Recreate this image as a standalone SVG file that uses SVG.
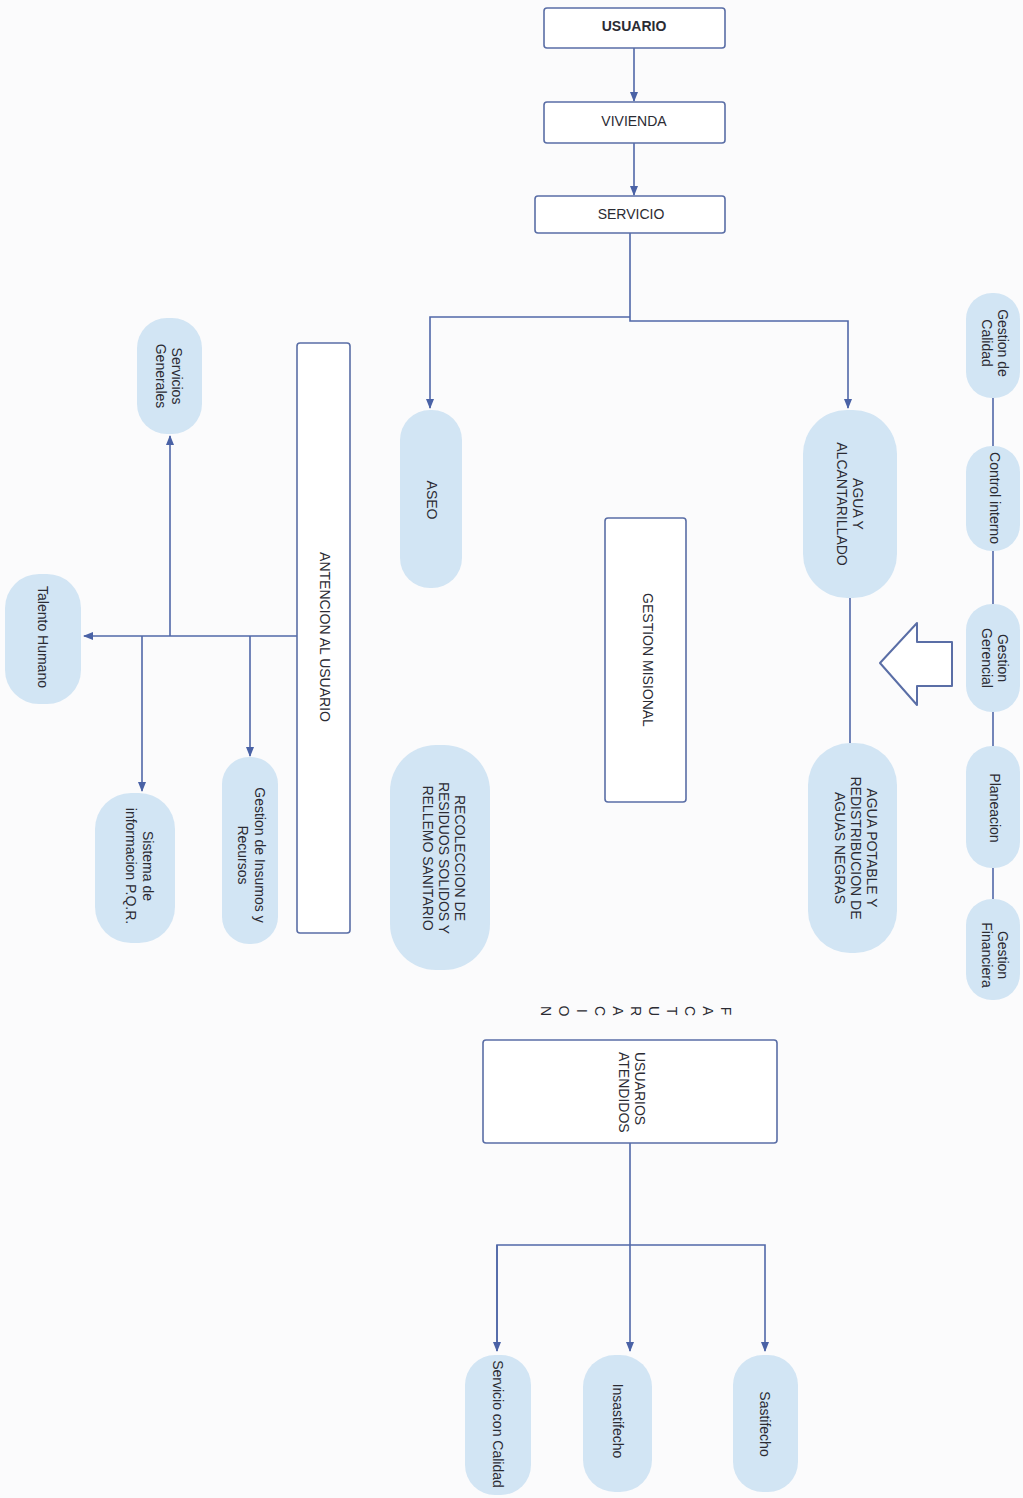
<svg xmlns="http://www.w3.org/2000/svg" width="1023" height="1498" viewBox="0 0 1023 1498">
<style>
.box{fill:#ffffff;stroke:#5a6ea6;stroke-width:1.6}
.pill{fill:#d2e5f4;stroke:none}
.t{font-family:"Liberation Sans",Arial,sans-serif;font-size:14px;fill:#2b2b33;text-anchor:middle}
.b{font-weight:bold}
.c{fill:none;stroke:#5168a8;stroke-width:1.6}
</style>
<defs>
<marker id="ah" markerUnits="userSpaceOnUse" markerWidth="10" markerHeight="10" viewBox="0 0 10 10" refX="9" refY="5" orient="auto">
<path d="M0,1 L10,5 L0,9 Z" fill="#4a62a6"/>
</marker>
</defs>
<rect width="1023" height="1498" fill="#fbfbfc"/>

<g id="connectors">
<path class="c" d="M634,48 V101" marker-end="url(#ah)"/>
<path class="c" d="M634,143 V195" marker-end="url(#ah)"/>
<path class="c" d="M630,233 V321 H848 V408" marker-end="url(#ah)"/>
<path class="c" d="M630,317 H430 V408" marker-end="url(#ah)"/>
<path class="c" d="M850,598 V743"/>
<path class="c" d="M993,396 V447"/>
<path class="c" d="M993,550 V604"/>
<path class="c" d="M993,711 V746"/>
<path class="c" d="M993,867 V899"/>
<path class="c" d="M297,636 H84" marker-end="url(#ah)"/>
<path class="c" d="M170,636 V436" marker-end="url(#ah)"/>
<path class="c" d="M250,636 V756" marker-end="url(#ah)"/>
<path class="c" d="M142,636 V791" marker-end="url(#ah)"/>
<path class="c" d="M630,1143 V1351" marker-end="url(#ah)"/>
<path class="c" d="M497,1351 V1245 H765 V1351" marker-end="url(#ah)"/>
<path class="c" d="M497,1245 V1351" marker-end="url(#ah)"/>
</g>

<g id="big-arrow">
<polygon points="880,663 917,623 917,642 952,642 952,686 917,686 917,705" fill="#ffffff" stroke="#5a6ea6" stroke-width="2" stroke-linejoin="round"/>
</g>

<g id="usuario">
<rect class="box" x="544" y="8" width="181" height="40" rx="3"/>
<text class="t b" x="634" y="31">USUARIO</text>
</g>
<g id="vivienda">
<rect class="box" x="544" y="102" width="181" height="41" rx="3"/>
<text class="t" x="634" y="126">VIVIENDA</text>
</g>
<g id="servicio">
<rect class="box" x="535" y="196" width="190" height="37" rx="3"/>
<text class="t" x="631" y="219">SERVICIO</text>
</g>

<g id="agua-alcantarillado">
<rect class="pill" x="803" y="410" width="94" height="188" rx="44"/>
<text class="t" transform="translate(850,504) rotate(90)"><tspan x="0" y="-3">AGUA Y</tspan><tspan x="0" y="13">ALCANTARILLADO</tspan></text>
</g>
<g id="agua-potable">
<rect class="pill" x="808" y="743" width="89" height="210" rx="42"/>
<text class="t" transform="translate(852,848) rotate(90)"><tspan x="0" y="-15">AGUA POTABLE Y</tspan><tspan x="0" y="1">REDISTRIBUCION DE</tspan><tspan x="0" y="17">AGUAS NEGRAS</tspan></text>
</g>

<g id="gestion-calidad">
<rect class="pill" x="966" y="293" width="54" height="105" rx="26"/>
<text class="t" transform="translate(995,343) rotate(90)"><tspan x="0" y="-3">Gestion de</tspan><tspan x="0" y="13">Calidad</tspan></text>
</g>
<g id="control-interno">
<rect class="pill" x="966" y="446" width="54" height="105" rx="26"/>
<text class="t" transform="translate(995,498) rotate(90)"><tspan x="0" y="5">Control interno</tspan></text>
</g>
<g id="gestion-gerencial">
<rect class="pill" x="966" y="604" width="54" height="108" rx="26"/>
<text class="t" transform="translate(995,658) rotate(90)"><tspan x="0" y="-3">Gestion</tspan><tspan x="0" y="13">Gerencial</tspan></text>
</g>
<g id="planeacion">
<rect class="pill" x="966" y="746" width="54" height="122" rx="26"/>
<text class="t" transform="translate(995,808) rotate(90)"><tspan x="0" y="5">Planeacion</tspan></text>
</g>
<g id="gestion-financiera">
<rect class="pill" x="966" y="899" width="54" height="101" rx="26"/>
<text class="t" transform="translate(995,955) rotate(90)"><tspan x="0" y="-3">Gestion</tspan><tspan x="0" y="13">Financiera</tspan></text>
</g>

<g id="gestion-misional">
<rect class="box" x="605" y="518" width="81" height="284" rx="3"/>
<text class="t" transform="translate(648,660) rotate(90)"><tspan x="0" y="5">GESTION MISIONAL</tspan></text>
</g>

<g id="aseo">
<rect class="pill" x="400" y="410" width="62" height="178" rx="30"/>
<text class="t" transform="translate(432,500) rotate(90)"><tspan x="0" y="5">ASEO</tspan></text>
</g>
<g id="recoleccion">
<rect class="pill" x="390" y="745" width="100" height="225" rx="46"/>
<text class="t" transform="translate(444,858) rotate(90)"><tspan x="0" y="-11">RECOLECCION DE</tspan><tspan x="0" y="5">RESIDUOS SOLIDOS Y</tspan><tspan x="0" y="21">RELLEMO SANITARIO</tspan></text>
</g>

<g id="antencion">
<rect class="box" x="297" y="343" width="53" height="590" rx="3"/>
<text class="t" transform="translate(325,637) rotate(90)"><tspan x="0" y="5">ANTENCION AL USUARIO</tspan></text>
</g>
<g id="servicios-generales">
<rect class="pill" x="137" y="318" width="65" height="116" rx="30"/>
<text class="t" transform="translate(169,376) rotate(90)"><tspan x="0" y="-3">Servicios</tspan><tspan x="0" y="13">Generales</tspan></text>
</g>
<g id="talento-humano">
<rect class="pill" x="5" y="574" width="76" height="130" rx="34"/>
<text class="t" transform="translate(43,637) rotate(90)"><tspan x="0" y="5">Talento Humano</tspan></text>
</g>
<g id="gestion-insumos">
<rect class="pill" x="222" y="757" width="56" height="187" rx="27"/>
<text class="t" transform="translate(251,855) rotate(90)"><tspan x="0" y="-4">Gestion de Insumos y</tspan><tspan x="0" y="13">Recursos</tspan></text>
</g>
<g id="sistema-informacion">
<rect class="pill" x="95" y="793" width="80" height="150" rx="36"/>
<text class="t" transform="translate(139,866) rotate(90)"><tspan x="0" y="-4">Sistema de</tspan><tspan x="0" y="13">informacion P.Q.R.</tspan></text>
</g>

<g id="facturacion">
<text class="t" font-size="12" transform="translate(725,1011) rotate(90)"><tspan x="0" y="4">F</tspan><tspan x="0" y="22">A</tspan><tspan x="0" y="40">C</tspan><tspan x="0" y="58">T</tspan><tspan x="0" y="76">U</tspan><tspan x="0" y="94">R</tspan><tspan x="0" y="112">A</tspan><tspan x="0" y="130">C</tspan><tspan x="0" y="148">I</tspan><tspan x="0" y="166">O</tspan><tspan x="0" y="184">N</tspan></text>
</g>

<g id="usuarios-atendidos">
<rect class="box" x="483" y="1040" width="294" height="103" rx="3"/>
<text class="t" style="text-anchor:start" transform="translate(632,1052) rotate(90)"><tspan x="0" y="-3">USUARIOS</tspan><tspan x="0" y="13">ATENDIDOS</tspan></text>
</g>
<g id="servicio-calidad">
<rect class="pill" x="465" y="1355" width="66" height="140" rx="30"/>
<text class="t" transform="translate(498,1424) rotate(90)"><tspan x="0" y="5">Servicio con Calidad</tspan></text>
</g>
<g id="insastifecho">
<rect class="pill" x="583" y="1355" width="69" height="137" rx="32"/>
<text class="t" transform="translate(618,1421) rotate(90)"><tspan x="0" y="5">Insastifecho</tspan></text>
</g>
<g id="sastifecho">
<rect class="pill" x="733" y="1355" width="65" height="137" rx="30"/>
<text class="t" transform="translate(765,1424) rotate(90)"><tspan x="0" y="5">Sastifecho</tspan></text>
</g>
</svg>
